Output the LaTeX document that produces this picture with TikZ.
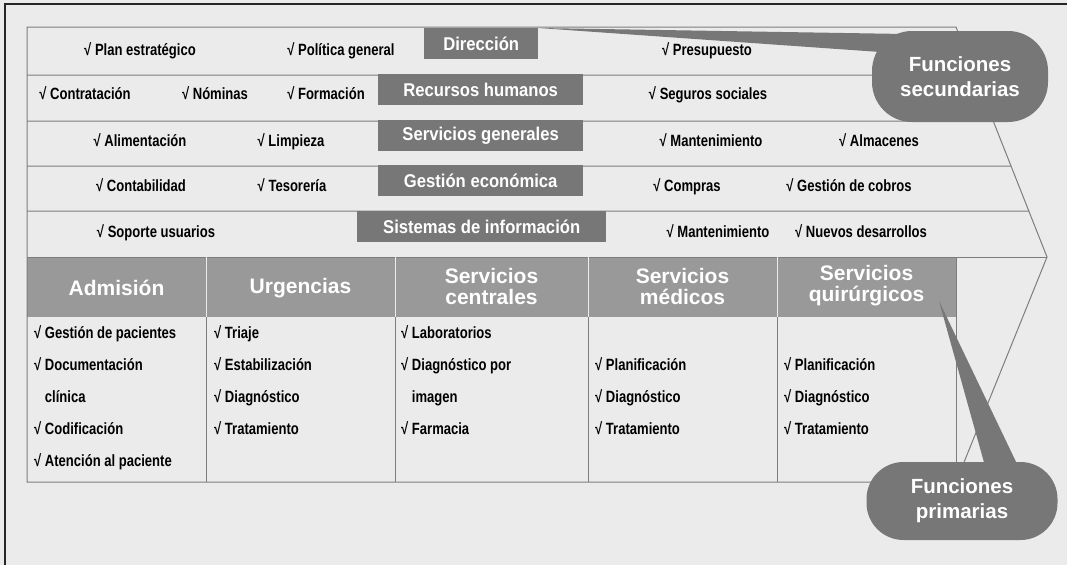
\documentclass[tikz,border=0pt]{standalone}
\usepackage{fontspec}
\setmainfont{Liberation Sans}
\newfontfamily\estrecha[FakeStretch=0.8]{Liberation Sans}
\newfontfamily\media[FakeStretch=0.9]{Liberation Sans}
\usetikzlibrary{calc}

\definecolor{fondo}{RGB}{235,235,235}
\definecolor{oscuro}{RGB}{119,119,119}
\definecolor{medio}{RGB}{153,153,153}
\definecolor{linea}{RGB}{125,125,125}

\tikzset{
    marco/.style={line width=1.3pt, black!85},
    borde/.style={linea, line width=1pt},
    item/.style={anchor=base, inner sep=0pt, font=\estrecha\bfseries\fontsize{16.3}{18}\selectfont},
    tabla/.style={item, anchor=base west},
    etiqueta/.style={fill=oscuro, text=white, inner sep=0pt, minimum height=31pt,
        anchor=north west, font=\media\bfseries\fontsize{18.5}{20}\selectfont},
    cabecera/.style={text=white, align=center, inner sep=0pt,
        font=\bfseries\fontsize{21}{21}\selectfont},
    globo/.style={fill=oscuro, text=white, align=center, inner sep=0pt,
        font=\bfseries\fontsize{20.5}{25}\selectfont},
}

\begin{document}
\begin{tikzpicture}[x=1pt, y=-1pt]
    \useasboundingbox (0,0) rectangle (1067,565);
    \fill[fondo] (0,0) rectangle (1067,565);
    \draw[marco] (1067,4) -- (5,4) -- (5,565);

    \coordinate (a1) at (27,27);
    \coordinate (a2) at (956,27);
    \coordinate (punta) at (1047,257);
    \coordinate (a4) at (956,482);
    \coordinate (a5) at (27,482);

    % cabecera de las funciones primarias
    \fill[medio] (27,257) rectangle (956,317);
    \draw[borde] (a1) -- (a2) -- (punta) -- (a4) -- (a5) -- cycle;
    \foreach \y in {75,121,166,211,257}
        \draw[borde] (27,\y) -- ($(a2)!{(\y-27)/230}!(punta)$);
    \foreach \x in {206,395,588,777} {
        \draw[white!80!medio, line width=1pt] (\x,257) -- (\x,317);
        \draw[borde] (\x,317) -- (\x,482);
    }
    \draw[borde] (956,257) -- (a4);

    \node[etiqueta, minimum width=114pt] (dir) at (424,28) {Dirección};
    \node[etiqueta, minimum width=205pt] (rrhh) at (378,74) {Recursos humanos};
    \node[etiqueta, minimum width=205pt] (sgen) at (378,120) {Servicios generales};
    \node[etiqueta, minimum width=205pt] (geco) at (378,165) {Gestión económica};
    \node[etiqueta, minimum width=249pt] (sinf) at (357,211) {Sistemas de información};

    \node[item] (d1) at (140,55) {√ Plan estratégico};
    \node[item] (d2) at (341,55) {√ Política general};
    \node[item] (d3) at (707,55) {√ Presupuesto};
    \node[item] (h1) at (85,99) {√ Contratación};
    \node[item] (h2) at (215,99) {√ Nóminas};
    \node[item] (h3) at (326,99) {√ Formación};
    \node[item] (h4) at (708,99) {√ Seguros sociales};
    \node[item] (g1) at (140,146) {√ Alimentación};
    \node[item] (g2) at (291,146) {√ Limpieza};
    \node[item] (g3) at (711,146) {√ Mantenimiento};
    \node[item] (g4) at (879,146) {√ Almacenes};
    \node[item] (e1) at (141,191) {√ Contabilidad};
    \node[item] (e2) at (292,191) {√ Tesorería};
    \node[item] (e3) at (687,191) {√ Compras};
    \node[item] (e4) at (849,191) {√ Gestión de cobros};
    \node[item] (s1) at (156,237) {√ Soporte usuarios};
    \node[item] (s2) at (718,237) {√ Mantenimiento};
    \node[item] (s3) at (861,237) {√ Nuevos desarrollos};

    \node[cabecera] (adm) at (116.5,288) {Admisión};
    \node[cabecera] (urg) at (300.5,288) {Urgencias};
    \node[cabecera] (scen) at (491.5,286) {Servicios\\centrales};
    \node[cabecera] (smed) at (682.5,286) {Servicios\\médicos};
    \node[cabecera] (squi) at (866.5,286) {Servicios\\quirúrgicos};

    \node[tabla] (t11) at (34,338) {√ Gestión de pacientes};
    \node[tabla] (t12) at (34,370) {√ Documentación};
    \node[tabla] (t13) at (34,402) {\phantom{√ }clínica};
    \node[tabla] (t14) at (34,434) {√ Codificación};
    \node[tabla] (t15) at (34,466) {√ Atención al paciente};
    \node[tabla] (t21) at (214,338) {√ Triaje};
    \node[tabla] (t22) at (214,370) {√ Estabilización};
    \node[tabla] (t23) at (214,402) {√ Diagnóstico};
    \node[tabla] (t24) at (214,434) {√ Tratamiento};
    \node[tabla] (t31) at (401,338) {√ Laboratorios};
    \node[tabla] (t32) at (401,370) {√ Diagnóstico por};
    \node[tabla] (t33) at (401,402) {\phantom{√ }imagen};
    \node[tabla] (t34) at (401,434) {√ Farmacia};
    \node[tabla] (t41) at (595,370) {√ Planificación};
    \node[tabla] (t42) at (595,402) {√ Diagnóstico};
    \node[tabla] (t43) at (595,434) {√ Tratamiento};
    \node[tabla] (t51) at (784,370) {√ Planificación};
    \node[tabla] (t52) at (784,402) {√ Diagnóstico};
    \node[tabla] (t53) at (784,434) {√ Tratamiento};

    % globos
    \coordinate (pico) at (939,301);
    \fill[oscuro] (dir.north east) -- (905,34) -- (880,52) -- cycle;
    \node[globo, minimum width=176pt, minimum height=91pt, rounded corners=40pt] (fsec) at (960,76.5) {Funciones\\secundarias};
    \fill[oscuro] (pico) -- (1018,466) -- (985,466) -- cycle;
    \node[globo, minimum width=191pt, minimum height=78pt, rounded corners=37pt] (fprim) at (962,501) {Funciones\\primarias};
\end{tikzpicture}
\end{document}
